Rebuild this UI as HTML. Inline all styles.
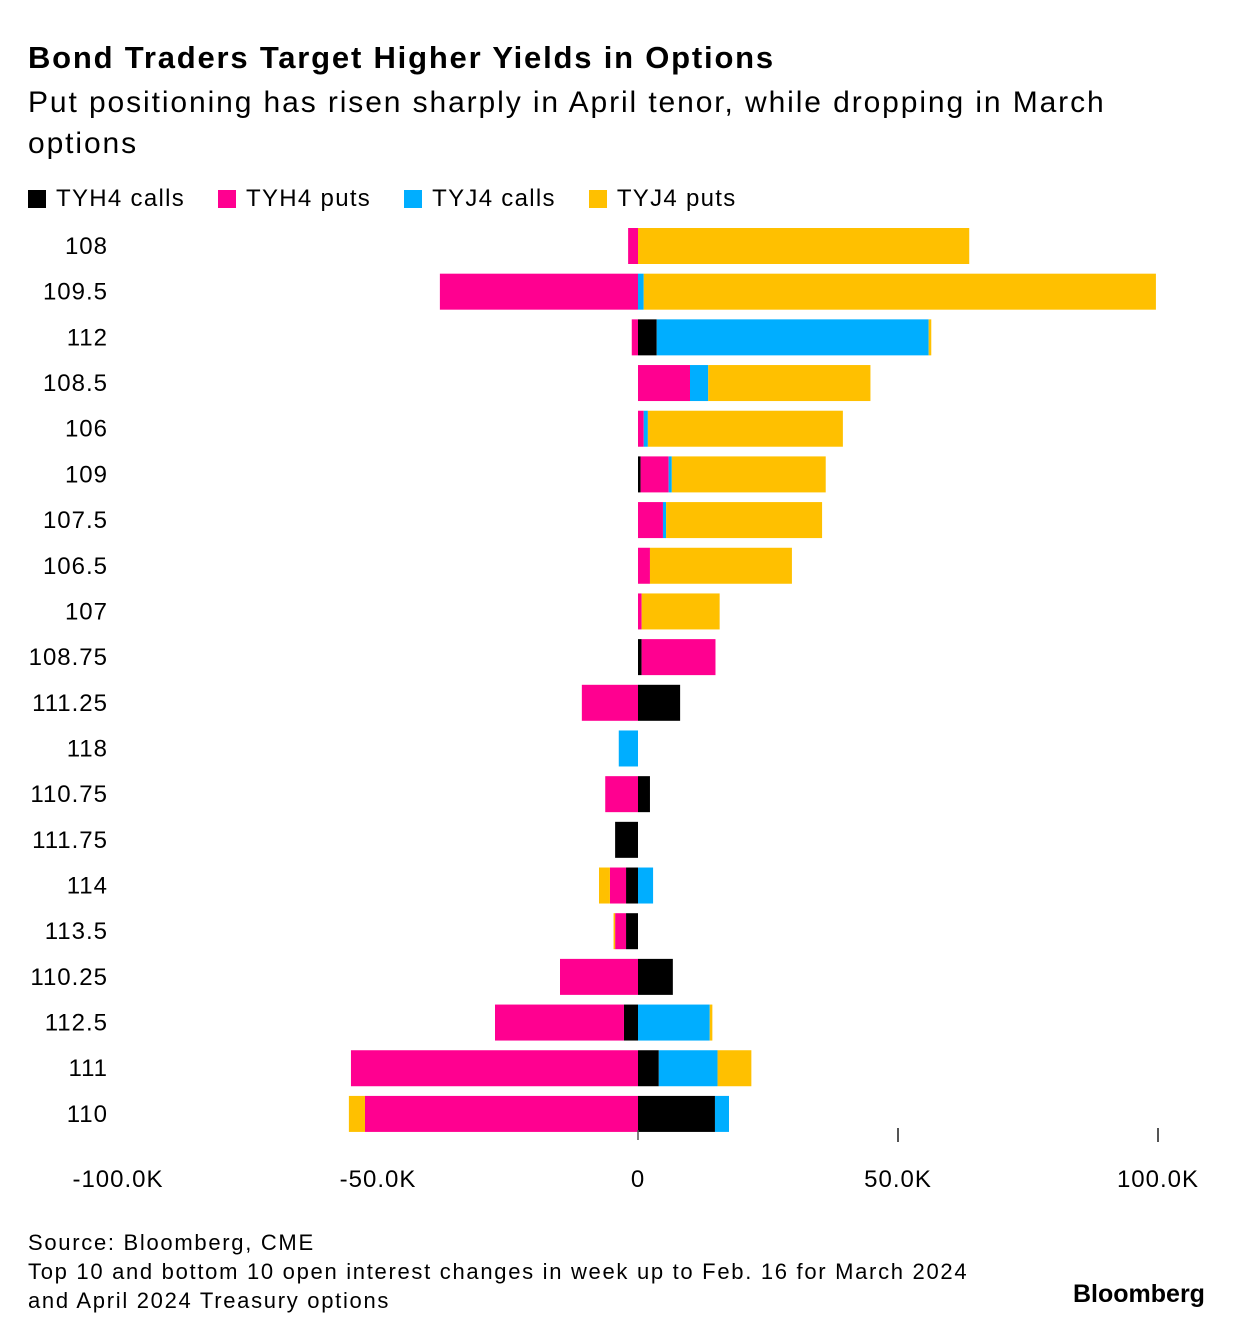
<!DOCTYPE html>
<html><head><meta charset="utf-8"><style>
body{margin:0;background:#fff;width:1247px;height:1338px;overflow:hidden;font-family:"Liberation Sans",sans-serif;color:#000}
.t{position:absolute;white-space:nowrap}
</style></head><body>
<div class="t" style="left:28px;top:40px;font-size:31px;font-weight:bold;letter-spacing:1.8px">Bond Traders Target Higher Yields in Options</div>
<div class="t" style="left:28px;top:82px;font-size:30px;line-height:41px;letter-spacing:1.9px">Put positioning has risen sharply in April tenor, while dropping in March<br>options</div>
<div id="legend" style="position:absolute;left:28px;top:185px;font-size:24px;letter-spacing:1.3px;display:flex;gap:33px"></div>
<svg id="c" width="1247" height="1338" style="position:absolute;left:0;top:0"></svg>
<div class="t" style="left:28px;top:1228px;font-size:22px;line-height:29px;letter-spacing:1.7px">Source: Bloomberg, CME<br>Top 10 and bottom 10 open interest changes in week up to Feb. 16 for March 2024<br>and April 2024 Treasury options</div>
<div class="t" style="left:1073px;top:1280px;font-size:25px;font-weight:bold;letter-spacing:0px">Bloomberg</div>
<script>
const categories=["108","109.5","112","108.5","106","109","107.5","106.5","107","108.75","111.25","118","110.75","111.75","114","113.5","110.25","112.5","111","110"];
const seriesNames=["TYH4 calls","TYH4 puts","TYJ4 calls","TYJ4 puts"];
const colors=["#000000","#ff0090","#00aeff","#ffc000"];
const tyh4Calls=[0,0,3.6,0,0,0.5,0,0,0,0.7,8.1,0,2.3,-4.4,-2.3,-2.3,6.7,-2.7,4,14.8];
const tyh4Puts=[-1.9,-38.1,-1.2,10,1.1,5.4,4.8,2.3,0.7,14.2,-10.8,0,-6.3,0,-3.1,-2.1,-15,-24.8,-55.2,-52.5];
const tyj4Calls=[0,1.1,52.3,3.5,0.8,0.6,0.6,0,0,0,0,-3.7,0,0,2.9,0,0,13.8,11.3,2.7];
const tyj4Puts=[63.7,98.5,0.5,31.2,37.5,29.6,30,27.3,15,0,0,0,0,0,-2.1,-0.3,0,0.5,6.5,-3.1];
const tickValues=[-100,-50,0,50,100];
const tickLabels=["-100.0K","-50.0K","0","50.0K","100.0K"];
const series=[tyh4Calls,tyh4Puts,tyj4Calls,tyj4Puts];
const NS="http://www.w3.org/2000/svg";
const svg=document.getElementById('c');
const x=v=>638+v*5.2;
const y=i=>246+i*45.68;
const bh=36;
const lg=document.getElementById('legend');
seriesNames.forEach((n,k)=>{
  const d=document.createElement('div');
  
  
  d.style.display='flex';d.style.alignItems='center';
  d.innerHTML='<span style="display:inline-block;width:18px;height:18px;background:'+colors[k]+';margin-right:10px"></span>'+n;
  lg.appendChild(d);
});
categories.forEach((c,i)=>{
  const t=document.createElementNS(NS,'text');
  
  
  t.setAttribute('x',108);t.setAttribute('y',y(i)+8);t.setAttribute('text-anchor','end');
  t.setAttribute('letter-spacing','1');
  t.setAttribute('font-size','24');t.textContent=c;svg.appendChild(t);
  let pos=0,neg=0;
  series.forEach((s,k)=>{
    const v=s[i];if(!v)return;
    let a,b;
    if(v>0){a=pos;b=pos+v;pos=b;}else{a=neg+v;b=neg;neg=a;}
    const r=document.createElementNS(NS,'rect');
    
    
    r.setAttribute('x',x(a));r.setAttribute('width',x(b)-x(a));
    r.setAttribute('y',y(i)-bh/2);r.setAttribute('height',bh);
    r.setAttribute('fill',colors[k]);svg.appendChild(r);
  });
});
tickValues.forEach((v,j)=>{
  if(v>0){
    const l=document.createElementNS(NS,'line');
    
    
    l.setAttribute('x1',x(v));l.setAttribute('x2',x(v));l.setAttribute('y1',1128);l.setAttribute('y2',1142);
    l.setAttribute('stroke','#555');l.setAttribute('stroke-width','2');svg.appendChild(l);
  }
  const t=document.createElementNS(NS,'text');
  
  
  t.setAttribute('x',x(v));t.setAttribute('y',1187);t.setAttribute('text-anchor','middle');
  t.setAttribute('letter-spacing','1');
  t.setAttribute('font-size','24');t.textContent=tickLabels[j];svg.appendChild(t);
});
const z=document.createElementNS(NS,'line');


z.setAttribute('x1',x(0));z.setAttribute('x2',x(0));z.setAttribute('y1',1130);z.setAttribute('y2',1140);
z.setAttribute('stroke','#555');z.setAttribute('stroke-width','1.5');svg.appendChild(z);
</script>
</body></html>
